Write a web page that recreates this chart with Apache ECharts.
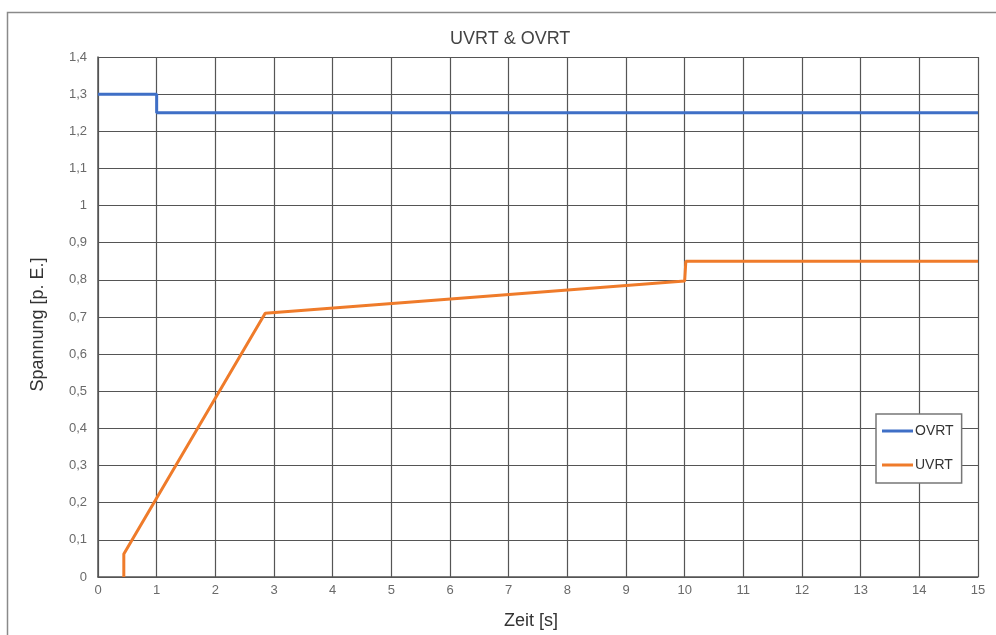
<!DOCTYPE html>
<html><head><meta charset="utf-8">
<script src="https://cdn.jsdelivr.net/npm/echarts@6/dist/echarts.min.js"></script>
<style>html,body{margin:0;padding:0;background:#fff}#c{width:996px;height:635px}</style>
</head><body><div id="c"></div>
<script>
const titleText = 'UVRT & OVRT';
const xName = 'Zeit [s]';
const yName = 'Spannung [p. E.]';
const ovrtTime = [0, 1, 1, 15];
const ovrtValues = [1.3, 1.3, 1.25, 1.25];
const uvrtTime = [0.44, 0.44, 2.85, 10, 10.02, 15];
const uvrtValues = [0, 0.062, 0.71, 0.797, 0.85, 0.85];
const seriesNames = ['OVRT', 'UVRT'];

const chart = echarts.init(document.getElementById('c'));
const fmt = v => (Math.round(v * 10) / 10).toString().replace('.', ',');
chart.setOption({
  backgroundColor: '#fff',
  animation: false,
  textStyle: { fontFamily: 'Liberation Sans, Arial, sans-serif' },
  graphic: [{ type: 'rect', shape: { x: 7.5, y: 12.5, width: 1000, height: 640 }, style: { fill: 'none', stroke: '#8a8a8a', lineWidth: 1.5 }, silent: true, z: -1 }],
  title: { text: titleText, left: 445, top: 25, textStyle: { fontSize: 18, fontWeight: 'normal', color: '#444' } },
  grid: { left: 98, right: 18, top: 57, bottom: 57 },
  legend: {
    orient: 'vertical', left: 876, top: 414, width: 88,
    data: seriesNames, icon: 'rect', itemWidth: 31, itemHeight: 3, itemGap: 20,
    borderColor: '#777', borderWidth: 1.5, backgroundColor: '#fff',
    padding: [10, 8, 11, 6],
    textStyle: { fontSize: 14, color: '#333', padding: [0, 0, 0, -3] }
  },
  xAxis: {
    type: 'value', min: 0, max: 15, interval: 1,
    name: xName, nameLocation: 'middle', nameGap: 35,
    nameTextStyle: { fontSize: 18, color: '#333', padding: [0, 14, 0, 0] },
    axisLine: { show: true, lineStyle: { color: '#555', width: 1.5 } },
    axisTick: { show: false },
    axisLabel: { color: '#6a6a6a', fontSize: 13, margin: 7 },
    splitLine: { show: true, lineStyle: { color: '#555', width: 1.2 } }
  },
  yAxis: {
    type: 'value', min: 0, max: 1.4, interval: 0.1,
    name: yName, nameLocation: 'middle', nameGap: 51, nameRotate: 90,
    nameTextStyle: { fontSize: 18, color: '#333', padding: [0, 15, 0, 0] },
    axisLine: { show: true, lineStyle: { color: '#555', width: 1.5 } },
    axisTick: { show: false },
    axisLabel: { color: '#6a6a6a', fontSize: 13, margin: 11, formatter: fmt },
    splitLine: { show: true, lineStyle: { color: '#555', width: 1.2 } }
  },
  series: [
    { name: seriesNames[0], type: 'line', symbol: 'none', color: '#3f6fc6', lineStyle: { width: 3 },
      data: ovrtTime.map((t, i) => [t, ovrtValues[i]]) },
    { name: seriesNames[1], type: 'line', symbol: 'none', color: '#ef7b2a', lineStyle: { width: 3 },
      data: uvrtTime.map((t, i) => [t, uvrtValues[i]]) }
  ]
});
</script></body></html>
